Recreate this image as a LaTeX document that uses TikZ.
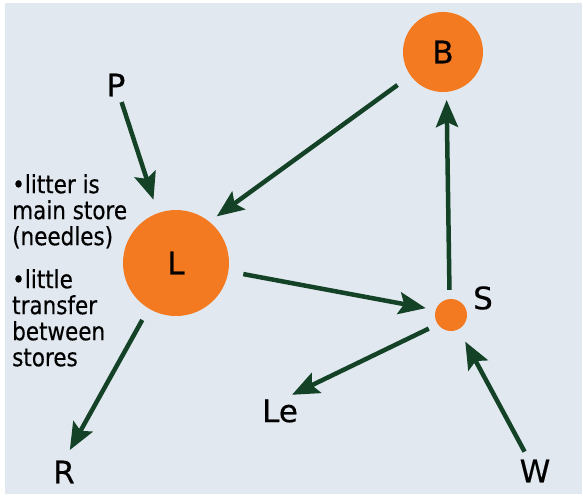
\documentclass[tikz,border=0pt]{standalone}
\usepackage{fontspec}
\setmainfont{DejaVu Sans}[FakeBold=0.4]
\newfontfamily\notefont{DejaVu Sans}[FakeStretch=0.86,FakeBold=0.4]
\usetikzlibrary{arrows.meta,calc}
\definecolor{panel}{RGB}{225,232,240}
\definecolor{storeorange}{RGB}{243,122,33}
\definecolor{flowgreen}{RGB}{20,66,38}
\begin{document}
\begin{tikzpicture}[x=1pt,y=-1pt,
  store/.style={circle,fill=storeorange,inner sep=0pt,minimum size=#1},
  lbl/.style={inner sep=0pt,text=black,font=\fontsize{31}{31}\selectfont},
  flow/.style={draw=flowgreen,line width=4.5pt,-{Stealth[length=27pt,width=22pt,inset=5pt]}},
  note/.style={anchor=north west,inner sep=0pt,align=left,text=black,
    font=\notefont\fontsize{25}{26}\selectfont}]
  % page and panel
  \fill[white] (0,0) rectangle (583,500);
  \fill[panel] (5,3) rectangle (582,494);
  \useasboundingbox (0,0) rectangle (583,500);

  % stores
  \node[store=80pt,lbl] (B) at (443,52) {B};
  \node[store=106pt,lbl] (L) at (176,263) {L};
  \node[store=32pt] (S) at (451,315) {};
  \node[lbl] (Slbl) at (483,298) {S};

  % inputs and outputs
  \node[lbl] (P) at (116,85) {P};
  \node[lbl] (Le) at (280,411) {Le};
  \node[lbl] (R) at (64,472) {R};
  \node[lbl] (W) at (535,471) {W};

  % notes
  \node[note] (n1) at (12,174) {•litter is\\main store\\(needles)};
  \node[note] (n2) at (12,269) {•little\\transfer\\between\\stores};

  % fluxes
  \draw[flow,shorten <=18pt,shorten >=14pt] (P.center) -- (L.110);
  \draw[flow,shorten <=16pt,shorten >=9pt] (B.216) -- (L.51);
  \draw[flow,shorten <=15pt,shorten >=10pt] (L.351.5) -- (S.162);
  \draw[flow,shorten <=9pt,shorten >=8pt] (S.95) -- (B.275);
  \draw[flow,shorten <=10pt] (S.215) -- ($(Le.north)+(12,-4.5)$);
  \draw[flow,shorten <=22pt,shorten >=14pt] (W.center) -- (S.298);
  \draw[flow,shorten <=13pt,shorten >=12pt] (L.239) -- (R.north);
\end{tikzpicture}
\end{document}
